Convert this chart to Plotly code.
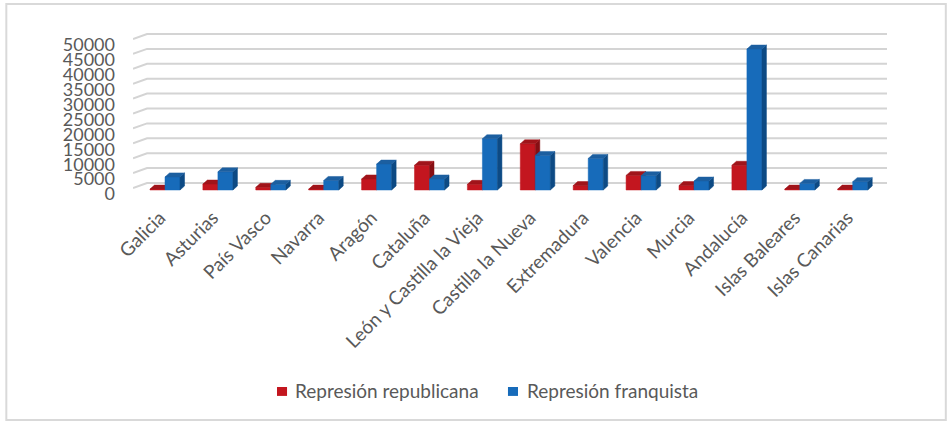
import plotly.graph_objects as go

# Regions and victims of each repression
categories = ["Galicia", "Asturias", "País Vasco", "Navarra", "Aragón", "Cataluña",
              "León y Castilla la Vieja", "Castilla la Nueva", "Extremadura", "Valencia",
              "Murcia", "Andalucía", "Islas Baleares", "Islas Canarias"]
republicana = [300, 2000, 900, 300, 3700, 8300, 1900, 15500, 1500, 4900, 1500, 8300, 300, 300]
franquista = [4400, 6100, 1900, 3200, 8700, 3700, 17200, 11600, 10600, 4800, 3000, 47300, 2200, 2800]
y_ticks = [0, 5000, 10000, 15000, 20000, 25000, 30000, 35000, 40000, 45000, 50000]

series_names = ["Represión republicana", "Represión franquista"]
colors = {
    "rep": dict(front="#C3161F", side="#860E13", top="#A0141A"),
    "fra": dict(front="#176BBA", side="#0D4A84", top="#1C5FA0"),
}

# geometry of the pseudo-3D columns (category units / value units)
W = 0.284          # column width
DX = 0.085         # depth shift to the right
DY = 1340          # depth shift upwards
WALL = 2350        # offset of the back wall gridlines
X0, X1 = -0.605, 13.648
Y0, Y1 = -2013, 54362
TEXT = "#595959"
FONT = "Lato, 'Open Sans', sans-serif"


def column_faces(values, left_shift):
    front_x, front_y, side_x, side_y, top_x, top_y = [], [], [], [], [], []
    for i, v in enumerate(values):
        a = i + left_shift
        b = a + W
        front_x += [a, a, b, b, a, None]
        front_y += [0, v, v, 0, 0, None]
        side_x += [b, b + DX, b + DX, b, b, None]
        side_y += [0, DY, v + DY, v, 0, None]
        top_x += [a, a + DX, b + DX, b, a, None]
        top_y += [v, v + DY, v + DY, v, v, None]
    return (front_x, front_y), (side_x, side_y), (top_x, top_y)


fig = go.Figure()

# back-wall gridlines with the short side-wall edge on the left
gx, gy = [], []
for t in y_ticks:
    gx += [X0, -0.34, X1, None]
    gy += [t + WALL - 1680, t + WALL, t + WALL, None]
fig.add_trace(go.Scatter(x=gx, y=gy, mode="lines", line=dict(color="#d4d4d4", width=2),
                         hoverinfo="skip", showlegend=False))

for key, vals, shift in (("rep", republicana, -W), ("fra", franquista, 0.0)):
    faces = column_faces(vals, shift)
    for (fx, fy), part in zip(faces, ("front", "side", "top")):
        c = colors[key][part]
        fig.add_trace(go.Scatter(x=fx, y=fy, mode="lines", fill="toself", fillcolor=c,
                                 line=dict(color=c, width=0.5), hoverinfo="skip",
                                 showlegend=False))

# legend: colour key squares and labels below the plot
legend_keys = [("rep", 0.191, 0.2122), ("fra", 0.4973, 0.5199)]
shapes = [dict(type="rect", xref="paper", yref="paper",
               x0=-0.168, x1=1.078, y0=-1.333, y1=1.143,
               line=dict(color="#d9d9d9", width=2), fillcolor="rgba(0,0,0,0)",
               layer="below")]
annotations = []
for name, (key, kx, tx) in zip(series_names, legend_keys):
    shapes.append(dict(type="rect", xref="paper", yref="paper",
                       x0=kx, x1=kx + 0.0133, y0=-1.190, y1=-1.137,
                       line=dict(width=0), fillcolor=colors[key]["front"]))
    annotations.append(dict(text=name, xref="paper", yref="paper", x=tx, y=-1.1607,
                            xanchor="left", yanchor="middle", showarrow=False,
                            font=dict(family=FONT, size=19, color=TEXT)))

fig.update_layout(
    width=949, height=423,
    margin=dict(l=133, r=62, t=28, b=227),
    paper_bgcolor="white", plot_bgcolor="white",
    font=dict(family=FONT, color=TEXT),
    showlegend=False,
    xaxis=dict(range=[X0, X1], tickmode="array", tickvals=list(range(len(categories))),
               ticktext=categories, tickangle=-45, showgrid=False, zeroline=False,
               showline=False, ticks="", ticklabelstandoff=6, ticklabelshift=-5,
               tickfont=dict(family=FONT, size=19, color=TEXT)),
    yaxis=dict(range=[Y0, Y1], tickmode="array", tickvals=y_ticks,
               ticktext=[str(t) for t in y_ticks], showgrid=False, zeroline=False,
               showline=False, ticks="", ticklabelstandoff=17, ticklabelshift=4,
               tickfont=dict(family=FONT, size=18, color=TEXT)),
    shapes=shapes,
    annotations=annotations,
)

fig.write_html("out.html")
